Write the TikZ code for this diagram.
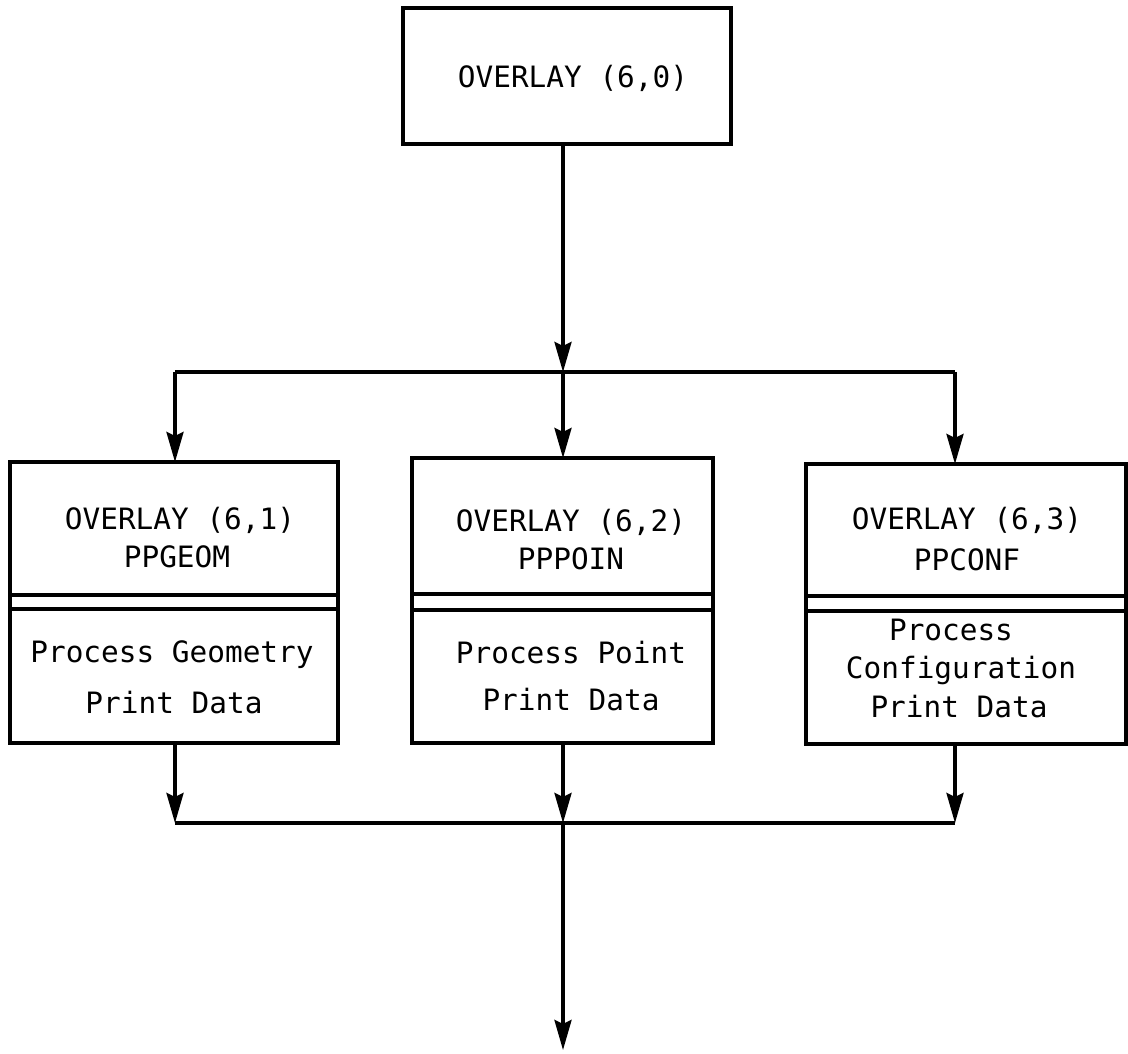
\documentclass[tikz,border=0pt]{standalone}
\usepackage{fontspec}
\setmonofont{DejaVu Sans Mono}
\usetikzlibrary{arrows.meta}
\begin{document}
\begin{tikzpicture}[x=1pt,y=-1pt,
  box/.style={draw,line width=4pt,inner sep=0pt,outer sep=0pt},
  lbl/.style={font=\ttfamily\fontsize{29.4}{34}\selectfont,anchor=base,inner sep=0pt},
  conn/.style={line width=3.5pt},
  arr/.style={conn,-{Stealth[length=30pt,width=17pt,inset=4pt]}},
  sep/.style={line width=3.5pt}]
\useasboundingbox (0,0) rectangle (1128,1054);
% boxes
\node[box,minimum width=328pt,minimum height=136pt] (b0) at (567,76) {};
\node[box,minimum width=328pt,minimum height=281pt] (b1) at (174,602.5) {};
\node[box,minimum width=301pt,minimum height=285pt] (b2) at (562.5,600.5) {};
\node[box,minimum width=320pt,minimum height=280pt] (b3) at (966,604) {};
% dividers
\draw[sep] ([yshift=-133pt]b1.north west) -- ([yshift=-133pt]b1.north east);
\draw[sep] ([yshift=-147pt]b1.north west) -- ([yshift=-147pt]b1.north east);
\draw[sep] ([yshift=-136pt]b2.north west) -- ([yshift=-136pt]b2.north east);
\draw[sep] ([yshift=-152pt]b2.north west) -- ([yshift=-152pt]b2.north east);
\draw[sep] ([yshift=-132pt]b3.north west) -- ([yshift=-132pt]b3.north east);
\draw[sep] ([yshift=-147pt]b3.north west) -- ([yshift=-147pt]b3.north east);
% texts
\node[lbl] (t0) at (573,88) {OVERLAY (6,0)};
\node[lbl] (t1a) at (180,529) {OVERLAY (6,1)};
\node[lbl] (t1b) at (177,567) {PPGEOM};
\node[lbl] (t1c) at (172,662) {Process Geometry};
\node[lbl] (t1d) at (174,713) {Print Data};
\node[lbl] (t2a) at (571,531) {OVERLAY (6,2)};
\node[lbl] (t2b) at (571,569) {PPPOIN};
\node[lbl] (t2c) at (571,663) {Process Point};
\node[lbl] (t2d) at (571,710) {Print Data};
\node[lbl] (t3a) at (967,529) {OVERLAY (6,3)};
\node[lbl] (t3b) at (967,570) {PPCONF};
\node[lbl] (t3c) at (951,640) {Process};
\node[lbl] (t3d) at (961,678) {Configuration};
\node[lbl] (t3e) at (959,717) {Print Data};
% connectors
\coordinate (p1) at (175,372);
\coordinate (p2) at (563,372);
\coordinate (p3) at (955,372);
\coordinate (q1) at (175,823);
\coordinate (q2) at (563,823);
\coordinate (q3) at (955,823);
\coordinate (out) at (563,1050);
\draw[arr] (p2 |- b0.south) -- (p2);
\draw[conn] (p1) -- (p3);
\draw[arr] (p1) -- (p1 |- b1.north);
\draw[arr] (p2) -- (p2 |- b2.north);
\draw[arr] (p3) -- (p3 |- b3.north);
\draw[arr] (q1 |- b1.south) -- (q1);
\draw[arr] (q2 |- b2.south) -- (q2);
\draw[arr] (q3 |- b3.south) -- (q3);
\draw[conn] (q1) -- (q3);
\draw[arr] (q2) -- (out);
\end{tikzpicture}
\end{document}
